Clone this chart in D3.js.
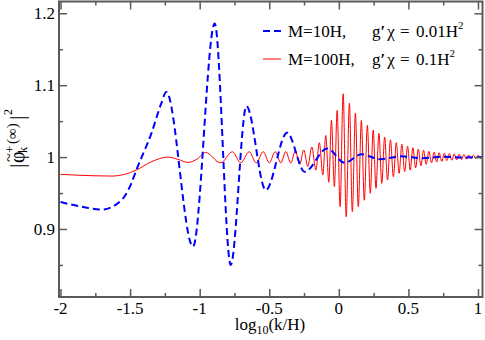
<!DOCTYPE html>
<html><head><meta charset="utf-8">
<script src="https://cdn.jsdelivr.net/npm/d3@7"></script>
<style>body{margin:0;background:#fff}svg{display:block}
svg text{font-family:"Liberation Serif","DejaVu Serif",serif}</style>
</head><body><svg id="c" width="485" height="340"></svg>
<script>
const xTicks = [-2, -1.5, -1, -0.5, 0, 0.5, 1];
const xTickLabels = ["-2", "-1.5", "-1", "-0.5", "0", "0.5", "1"];
const yTicks = [0.9, 1.0, 1.1, 1.2];
const yTickLabels = ["0.9", "1", "1.1", "1.2"];
const seriesNames = ["M=10H,", "M=100H,"];
const seriesCoupling = ["0.01H", "0.1H"];
// blue dashed series: M=10H
const blueX = [-2.0, -1.85, -1.707, -1.563, -1.491, -1.455, -1.347, -1.276, -1.24, -1.048, -0.892, -0.777, -0.664, -0.525, -0.372, -0.245, -0.084, 0.043, 0.163, 0.295, 0.45, 0.6, 0.75, 0.9, 1.035];
const blueY = [0.9375, 0.931, 0.927, 0.940, 0.9635, 0.982, 1.033, 1.0746, 1.0907, 0.8755, 1.1857, 0.850, 1.0708, 0.954, 1.034, 0.9796, 1.012, 0.992, 1.004, 0.997, 1.001, 0.9985, 1.0005, 0.9995, 1.0];
// red solid series: M=100H
const redX = [-2.0, -1.76, -1.63, -1.54, -1.455, -1.347, -1.228, -1.156, -1.084, -1.013, -0.959, -0.849, -0.765, -0.705, -0.644, -0.594, -0.543, -0.500, -0.457, -0.417, -0.381, -0.345, -0.313, -0.281, -0.252, -0.223, -0.194, -0.165, -0.140, -0.115, -0.094, -0.072, -0.053, -0.032, -0.012, 0.009, 0.031, 0.053, 0.076, 0.097, 0.119, 0.140, 0.162, 0.183, 0.205, 0.226, 0.247, 0.267, 0.288, 0.309, 0.329, 0.350, 0.371, 0.392, 0.413, 0.433, 0.453, 0.473, 0.494, 0.513, 0.532, 0.552, 0.571, 0.590, 0.609, 0.628, 0.647, 0.666, 0.685, 0.703, 0.721, 0.740, 0.758, 0.776, 0.794, 0.812, 0.829, 0.847, 0.865, 0.882, 0.899, 0.917, 0.934, 0.950, 0.968, 0.984, 1.001, 1.018, 1.035];
const redY = [0.976, 0.974, 0.9736, 0.976, 0.982, 0.9935, 1.0, 0.9968, 0.9926, 0.998, 1.0065, 0.992, 1.0074, 0.992, 1.0074, 0.992, 1.0075, 0.992, 1.0075, 0.992, 1.0078, 0.9915, 1.0085, 0.990, 1.010, 0.987, 1.014, 0.982, 1.020, 0.975, 1.030, 0.965, 1.051, 0.959, 1.065, 0.931, 1.088, 0.917, 1.075, 0.924, 1.061, 0.931, 1.051, 0.940, 1.044, 0.9496, 1.0375, 0.9565, 1.033, 0.9635, 1.028, 0.968, 1.024, 0.9726, 1.020, 0.9774, 1.018, 0.9796, 1.015, 0.982, 1.013, 0.985, 1.011, 0.988, 1.0095, 0.990, 1.008, 0.992, 1.007, 0.993, 1.006, 0.994, 1.0055, 0.995, 1.005, 0.9955, 1.0045, 0.996, 1.004, 0.9965, 1.0035, 0.997, 1.003, 0.9975, 1.0028, 0.998, 1.0025, 0.998, 1.002];

const svg = d3.select("#c");
const L = 59, R = 482.5, T = 1.5, B = 297;
const x = d3.scaleLinear().domain([-2.011, 1.0325]).range([L, R]);
const y = d3.scaleLinear().domain([0.8054, 1.2164]).range([B, T]);
const axisCol = "#5a5a5a";

svg.append("clipPath").attr("id", "pc").append("rect")
  .attr("x", L).attr("y", T).attr("width", R - L).attr("height", B - T);

const line = d3.line().x(d => x(d[0])).y(d => y(d[1])).curve(d3.curveMonotoneX);
const g = svg.append("g").attr("clip-path", "url(#pc)");
g.append("path").datum(redX.map((v, i) => [v, redY[i]]))
  .attr("d", line).attr("fill", "none").attr("stroke", "#ff0000").attr("stroke-width", 1);
g.append("path").datum(blueX.map((v, i) => [v, blueY[i]]))
  .attr("d", line).attr("fill", "none").attr("stroke", "#0000ff").attr("stroke-width", 2)
  .attr("stroke-dasharray", "7,4");

const xMinor = d3.range(-2, 1.01, 0.25).filter(v => !xTicks.some(t => Math.abs(t - v) < 1e-6));
const yMinor = [0.85, 0.95, 1.05, 1.15];
function ticks(axisFn, scale, vals, size, transform) {
  const a = svg.append("g").attr("transform", transform)
    .call(axisFn(scale).tickValues(vals).tickSize(size).tickFormat(""));
  a.select(".domain").remove();
  a.selectAll("line").attr("stroke", axisCol).attr("stroke-width", 1.5);
}
ticks(d3.axisTop, x, xTicks, 8, `translate(0,${B})`);
ticks(d3.axisTop, x, xMinor, 4, `translate(0,${B})`);
ticks(d3.axisBottom, x, xTicks, 8, `translate(0,${T})`);
ticks(d3.axisBottom, x, xMinor, 4, `translate(0,${T})`);
ticks(d3.axisRight, y, yTicks, 8, `translate(${L},0)`);
ticks(d3.axisRight, y, yMinor, 4, `translate(${L},0)`);
ticks(d3.axisLeft, y, yTicks, 8, `translate(${R},0)`);
ticks(d3.axisLeft, y, yMinor, 4, `translate(${R},0)`);
svg.append("rect").attr("x", L).attr("y", T).attr("width", R - L).attr("height", B - T)
  .attr("fill", "none").attr("stroke", axisCol).attr("stroke-width", 2);

function txt(sel) { return sel.append("text").attr("fill", "#000"); }

svg.append("g").selectAll("text").data(xTicks).join("text")
  .attr("x", d => x(d)).attr("y", 314).attr("text-anchor", "middle")
  .attr("font-size", 17).text((d, i) => xTickLabels[i]);
svg.append("g").selectAll("text").data(yTicks).join("text")
  .attr("x", 55).attr("y", d => y(d) + 6).attr("text-anchor", "end")
  .attr("font-size", 17).text((d, i) => yTickLabels[i]);

const xl = txt(svg).attr("x", 270).attr("y", 330).attr("text-anchor", "middle").attr("font-size", 17);
xl.append("tspan").text("log");
xl.append("tspan").attr("font-size", 12).attr("dy", 4).text("10");
xl.append("tspan").attr("dy", -4).text("(k/H)");

// y label (rotated)
const yg = svg.append("g").attr("transform", "translate(24,168) rotate(-90)");
txt(yg).attr("x", 0).attr("y", 0).attr("font-size", 22).text("|");
txt(yg).attr("x", 5).attr("y", 0).attr("font-size", 20).text("φ");
txt(yg).attr("x", 6).attr("y", -10).attr("font-size", 16).text("~");
txt(yg).attr("x", 15).attr("y", 3).attr("font-size", 12).text("k");
txt(yg).attr("x", 15).attr("y", -10).attr("font-size", 13).text("+");
txt(yg).attr("x", 24).attr("y", -7).attr("font-size", 15).text("(∞)");
txt(yg).attr("x", 48).attr("y", 0).attr("font-size", 22).text("|");
txt(yg).attr("x", 53).attr("y", -12).attr("font-size", 12).text("2");

// legend
const legY = [31, 59];
const legCol = ["#0000ff", "#ff0000"];
legY.forEach((ly, i) => {
  svg.append("line").attr("x1", 263).attr("x2", 281).attr("y1", ly).attr("y2", ly)
    .attr("stroke", legCol[i]).attr("stroke-width", i === 0 ? 2 : 1)
    .attr("stroke-dasharray", i === 0 ? "7,4" : null);
  txt(svg).attr("x", 288).attr("y", ly + 6).attr("font-size", 17).text(seriesNames[i]);
  const t = txt(svg).attr("x", 372).attr("y", ly + 6).attr("font-size", 17);
  t.append("tspan").text("g");
  t.append("tspan").attr("font-weight", "bold").text("\u2032");
  t.append("tspan").attr("dx", 2).text("χ");
  t.append("tspan").attr("x", 400).text("=");
  t.append("tspan").attr("x", 416).text(seriesCoupling[i]);
  t.append("tspan").attr("font-size", 11).attr("dy", -8).text("2");
});
</script></body></html>
